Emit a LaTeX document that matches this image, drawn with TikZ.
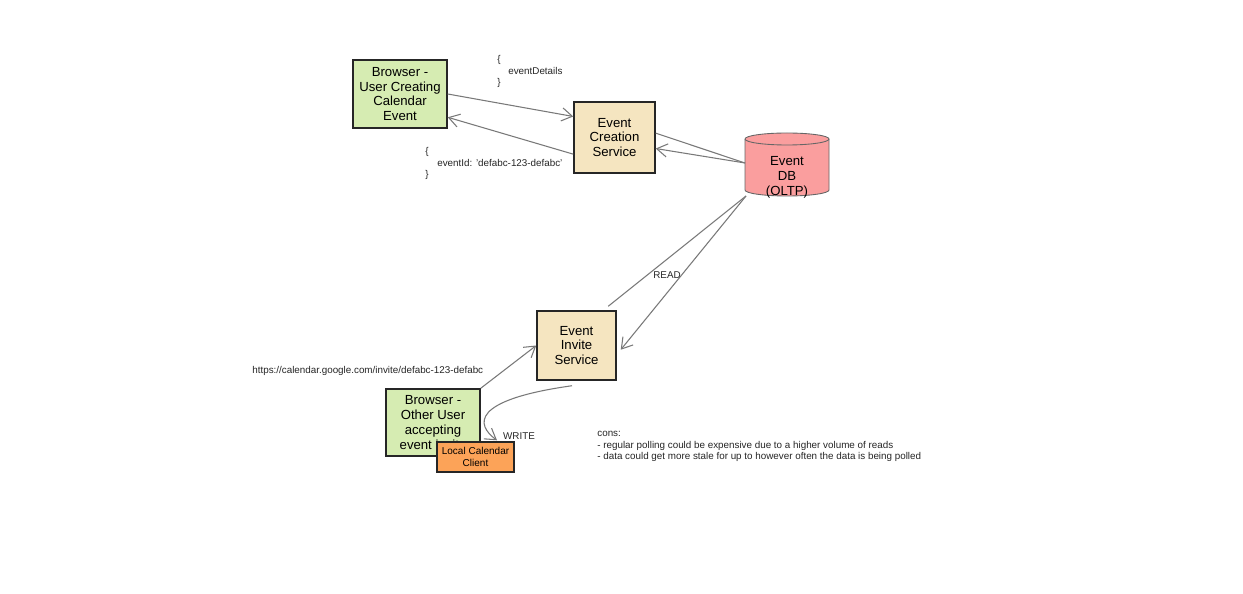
\documentclass[tikz,border=0pt]{standalone}
\usepackage{fontspec}
\setmainfont{Liberation Sans}
\usetikzlibrary{arrows.meta}

\definecolor{browsergreen}{RGB}{214,236,178}
\definecolor{servicewheat}{RGB}{245,229,192}
\definecolor{dbred}{RGB}{250,158,158}
\definecolor{clientorange}{RGB}{252,163,88}
\definecolor{linegray}{RGB}{120,120,120}

\tikzset{
    box/.style={draw=black!85,line width=0.85pt,align=center,inner sep=1pt,
        font=\fontsize{7.5}{8.4}\selectfont},
    note/.style={align=left,inner sep=0pt,font=\fontsize{5.6}{6.6}\selectfont,text=black!85},
    flow/.style={draw=linegray,line width=0.6pt,-{Straight Barb[length=6pt,width=7.5pt]}},
    plain/.style={draw=linegray,line width=0.6pt}
}

\begin{document}
\begin{tikzpicture}[x=0.02cm,y=-0.02cm]
    \fill[white] (0,0) rectangle (1243,594);
    \useasboundingbox (0,0) rectangle (1243,594);

    % services and clients
    \node[box,fill=browsergreen,minimum width=1.88cm,minimum height=1.36cm] (bc) at (400,94) {Browser -\\User Creating\\Calendar\\Event};
    \node[box,fill=servicewheat,minimum width=1.62cm,minimum height=1.42cm] (cs) at (614.5,137.5) {Event\\Creation\\Service};
    \node[box,fill=servicewheat,minimum width=1.58cm,minimum height=1.38cm] (is) at (576.5,345.5) {Event\\Invite\\Service};
    \node[box,fill=browsergreen,minimum width=1.88cm,minimum height=1.34cm] (bo) at (433,422.5) {Browser -\\Other User\\accepting\\event invite};
    \node[box,fill=clientorange,minimum width=1.54cm,minimum height=0.6cm,line width=0.8pt,
        font=\fontsize{5.7}{6.8}\selectfont] (lc) at (475.5,457) {Local Calendar\\Client};

    % database
    \path[fill=dbred,draw=black!60,line width=0.5pt] (745,139) -- (745,190) arc[start angle=180,end angle=0,x radius=42,y radius=6]
        -- (829,139) arc[start angle=0,end angle=-180,x radius=42,y radius=6] -- cycle;
    \draw[black!60,line width=0.5pt] (745,139) arc[start angle=180,end angle=0,x radius=42,y radius=6];
    \node[box,draw=none,inner sep=0pt] (db) at (787,177.5) {Event\\DB\\(OLTP)};
    \coordinate (dbw) at (745,163);
    \coordinate (dbs) at (746,196);

    % connectors
    \draw[flow] (bc.east) -- (cs.153);
    \draw[flow] (cs.202) -- (bc.334);
    \draw[plain] (cs.6) -- (dbw);
    \draw[flow] (dbw) -- (cs.345);
    \draw[plain] ([yshift=0.08cm]is.48) -- (dbs);
    \draw[flow] (dbs) -- ([xshift=0.08cm]is.-6);
    \draw[flow] (bo.north east) -- (is.west);
    \draw[flow] ([xshift=-0.09cm,yshift=-0.1cm]is.south) .. controls (470,400) and (476,425) .. ([xshift=0.43cm,yshift=0.02cm]lc.north);

    % labels
    \node[note,anchor=north west] (req) at (497,55) {\{\\\hspace{2.2mm}eventDetails\\\}};
    \node[note,anchor=north west] (resp) at (425,147) {\{\\\hspace{2.4mm}eventId: 'defabc-123-defabc'\\\}};
    \node[note] (readlbl) at (667,275) {READ};
    \node[note] (writelbl) at (519,436) {WRITE};
    \node[note,anchor=west] (url) at (252,371) {https://calendar.google.com/invite/defabc-123-defabc};
    \node[note,anchor=west] (cons) at (597,446.5) {cons:\\- regular polling could be expensive due to a higher volume of reads\\- data could get more stale for up to however often the data is being polled};

\end{tikzpicture}
\end{document}
